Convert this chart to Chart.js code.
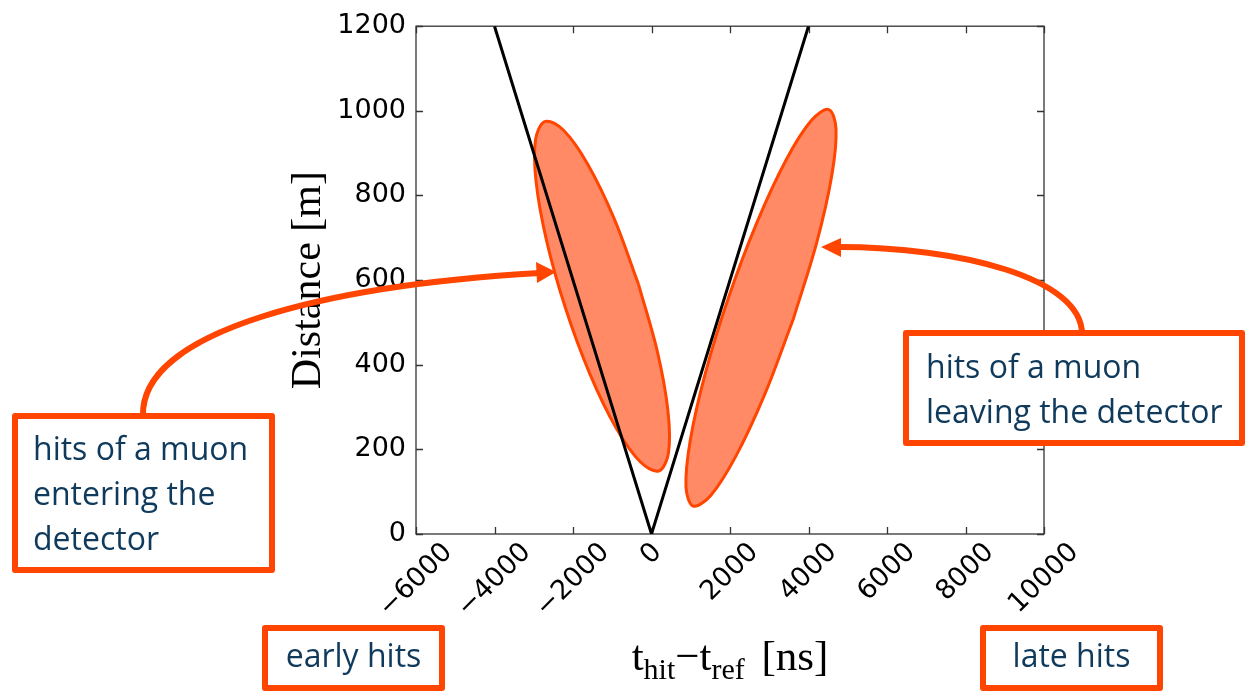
<!DOCTYPE html>
<html><head><meta charset="utf-8">
<script src="https://cdn.jsdelivr.net/npm/chart.js@4/dist/chart.umd.min.js"></script>
<style>html,body{margin:0;padding:0;background:#fff;}canvas{display:block;}</style>
</head><body>
<canvas id="c" width="1246" height="691"></canvas>
<script>
// ---- data ----
const xTickValues = [-6000, -4000, -2000, 0, 2000, 4000, 6000, 8000, 10000];
const yTickValues = [0, 200, 400, 600, 800, 1000, 1200];

// light-cone boundary lines
const coneT = [-4000, 0, 4000];
const coneD = [1200, 0, 1200];

// outline of region "hits of a muon entering the detector"
const enteringT = [-330, -954, -1625, -2241, -2707, -2953, -2942, -2675, -2192, -1568, -897, -281, 185, 431, 420, 153, -330];
const enteringD = [590, 746, 874, 954, 975, 933, 834, 694, 534, 378, 250, 170, 149, 191, 290, 430, 590];

// outline of region "hits of a muon leaving the detector"
const leavingT = [3613, 4211, 4593, 4701, 4517, 4071, 3429, 2690, 1967, 1369, 987, 879, 1063, 1509, 2151, 2890, 3613];
const leavingD = [508, 689, 847, 957, 1003, 977, 884, 737, 560, 379, 221, 111, 66, 91, 184, 331, 508];

const yTitle = 'Distance [m]';
const xTitleParts = [['t', 'main'], ['hit', 'sub'], ['\u2212t', 'main'], ['ref', 'sub'], [' [ns]', 'main']];
const noteEntering = ['hits of a muon', 'entering the', 'detector'];
const noteLeaving = ['hits of a muon', 'leaving the detector'];
const noteEarly = 'early hits';
const noteLate = 'late hits';

// ---- helpers ----
const toXY = (xs, ys) => xs.map((v, i) => ({x: v, y: ys[i]}));
const fmt = v => (v < 0 ? '\u2212' + Math.abs(v) : String(v));
const ORANGE = '#FF4500';
const NAVY = '#0F3A5C';

const framePlugin = {
  id: 'frame',
  beforeDatasetsDraw(chart) {
    const {ctx, chartArea: {left, right, top, bottom}, scales: {x, y}} = chart;
    ctx.save();
    ctx.strokeStyle = '#333';
    ctx.lineWidth = 1.3;
    ctx.strokeRect(left, top, right - left, bottom - top);
    ctx.beginPath();
    xTickValues.forEach(v => {
      const px = Math.round(x.getPixelForValue(v)) + 0.5;
      ctx.moveTo(px, bottom); ctx.lineTo(px, bottom - 7);
      ctx.moveTo(px, top); ctx.lineTo(px, top + 7);
    });
    yTickValues.forEach(v => {
      const py = Math.round(y.getPixelForValue(v)) + 0.5;
      ctx.moveTo(left, py); ctx.lineTo(left + 7, py);
      ctx.moveTo(right, py); ctx.lineTo(right - 7, py);
    });
    ctx.stroke();
    // rotated x tick labels, centred on their ticks
    ctx.font = '27px "DejaVu Sans"';
    ctx.fillStyle = '#000';
    ctx.textAlign = 'center';
    ctx.textBaseline = 'middle';
    xTickValues.forEach(v => {
      const label = fmt(v);
      const w = ctx.measureText(label).width;
      const half = (w + 20) * Math.SQRT1_2 / 2;
      const cx = x.getPixelForValue(v);
      const cy = bottom + 7 + half;
      ctx.save();
      ctx.translate(cx, cy);
      ctx.rotate(-Math.PI / 4);
      ctx.fillText(label, 0, 0);
      ctx.restore();
    });
    // x axis title with subscripts
    const mainF = '43px "Liberation Serif"', subF = '30px "Liberation Serif"';
    let total = 0;
    const widths = xTitleParts.map(([t, k]) => {
      ctx.font = k === 'main' ? mainF : subF;
      const w = ctx.measureText(t).width + (t.startsWith(' ') ? 6 : 0);
      total += w;
      return w;
    });
    let px = (left + right) / 2 - total / 2;
    const base = bottom + 136;
    ctx.textAlign = 'left';
    ctx.textBaseline = 'alphabetic';
    xTitleParts.forEach(([t, k], i) => {
      ctx.font = k === 'main' ? mainF : subF;
      const off = t.startsWith(' ') ? 6 : 0;
      ctx.fillText(t, px + off, k === 'main' ? base : base + 9);
      px += widths[i];
    });
    ctx.restore();
  }
};

const notesPlugin = {
  id: 'notes',
  afterDraw(chart) {
    const {ctx} = chart;
    ctx.save();
    ctx.strokeStyle = ORANGE;
    ctx.fillStyle = ORANGE;
    ctx.lineWidth = 6;
    ctx.lineCap = 'round';
    // left arrow
    ctx.beginPath();
    ctx.moveTo(143, 416);
    ctx.bezierCurveTo(140, 330, 330, 285, 540, 273);
    ctx.stroke();
    ctx.beginPath();
    ctx.moveTo(556, 272); ctx.lineTo(536, 262); ctx.lineTo(537, 283); ctx.closePath();
    ctx.fill();
    // right arrow
    ctx.beginPath();
    ctx.moveTo(1082, 334);
    ctx.bezierCurveTo(1082, 278, 960, 247, 838, 247);
    ctx.stroke();
    ctx.beginPath();
    ctx.moveTo(821, 247); ctx.lineTo(841, 238); ctx.lineTo(841, 257); ctx.closePath();
    ctx.fill();

    const box = (x, y, w, h) => {
      ctx.fillStyle = '#fff';
      ctx.fillRect(x, y, w, h);
      ctx.lineWidth = 6;
      ctx.lineJoin = 'round';
      ctx.strokeStyle = ORANGE;
      ctx.strokeRect(x, y, w, h);
    };
    box(15, 416, 257, 154);
    box(906, 333, 336, 110);
    box(265, 628, 177, 60);
    box(983, 628, 177, 60);

    ctx.fillStyle = NAVY;
    ctx.font = '32px "Open Sans"';
    ctx.textBaseline = 'alphabetic';
    ctx.textAlign = 'left';
    noteEntering.forEach((t, i) => ctx.fillText(t, 33, 460 + 45 * i));
    noteLeaving.forEach((t, i) => ctx.fillText(t, 926, 378 + 45 * i));
    ctx.textAlign = 'center';
    ctx.fillText(noteEarly, 353.5, 667);
    ctx.fillText(noteLate, 1071.5, 667);
    ctx.restore();
  }
};

new Chart(document.getElementById('c'), {
  type: 'scatter',
  data: {
    datasets: [
      {
        label: 'cone',
        data: toXY(coneT, coneD),
        showLine: true,
        borderColor: '#000',
        borderWidth: 3,
        pointRadius: 0,
        fill: false,
        order: 0
      },
      {
        label: 'entering',
        data: toXY(enteringT, enteringD),
        showLine: true,
        borderColor: ORANGE,
        backgroundColor: '#FF8A65',
        borderWidth: 3,
        pointRadius: 0,
        tension: 0.35,
        fill: 'shape',
        order: 1
      },
      {
        label: 'leaving',
        data: toXY(leavingT, leavingD),
        showLine: true,
        borderColor: ORANGE,
        backgroundColor: '#FF8A65',
        borderWidth: 3,
        pointRadius: 0,
        tension: 0.35,
        fill: 'shape',
        order: 1
      }
    ]
  },
  options: {
    responsive: false,
    animation: false,
    events: [],
    layout: {padding: {left: 280, right: 202, top: 24, bottom: 0}},
    plugins: {legend: {display: false}, tooltip: {enabled: false}},
    scales: {
      x: {
        type: 'linear',
        min: -6000, max: 10000,
        ticks: {display: false, stepSize: 2000},
        grid: {display: false, drawTicks: false},
        border: {display: false},
        afterFit: s => { s.height = 157; }
      },
      y: {
        type: 'linear',
        min: 0, max: 1200,
        ticks: {stepSize: 200, padding: 10, color: '#000',
                font: {family: 'DejaVu Sans', size: 27},
                callback: v => String(v)},
        grid: {display: false, drawTicks: false},
        border: {display: false},
        title: {display: true, text: yTitle, color: '#000',
                font: {family: 'Liberation Serif', size: 42},
                padding: {top: 4, bottom: 0}},
        afterFit: s => { s.width = 136; }
      }
    }
  },
  plugins: [framePlugin, notesPlugin]
});
</script>
</body></html>
